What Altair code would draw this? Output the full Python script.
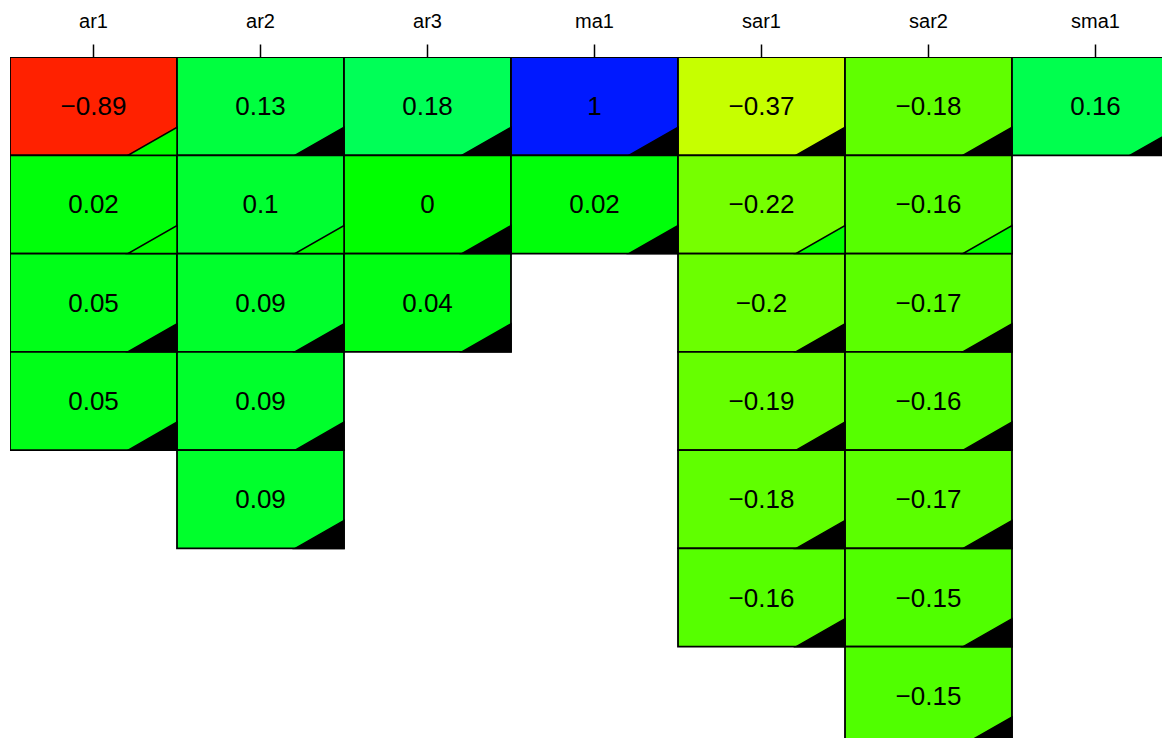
import altair as alt
import pandas as pd

cols = ["ar1", "ar2", "ar3", "ma1", "sar1", "sar2", "sma1"]

ar1_vals = [-0.89, 0.02, 0.05, 0.05]
ar2_vals = [0.13, 0.1, 0.09, 0.09, 0.09]
ar3_vals = [0.18, 0, 0.04]
ma1_vals = [1, 0.02]
sar1_vals = [-0.37, -0.22, -0.2, -0.19, -0.18, -0.16]
sar2_vals = [-0.18, -0.16, -0.17, -0.16, -0.17, -0.15, -0.15]
sma1_vals = [0.16]

# 1 = filled (black) corner marker, 0 = open (green) corner marker
ar1_flag = [0, 0, 1, 1]
ar2_flag = [1, 0, 1, 1, 1]
ar3_flag = [1, 1, 1]
ma1_flag = [1, 1]
sar1_flag = [1, 0, 1, 1, 1, 1]
sar2_flag = [1, 0, 1, 1, 1, 1, 1]
sma1_flag = [1]

all_vals = [ar1_vals, ar2_vals, ar3_vals, ma1_vals, sar1_vals, sar2_vals, sma1_vals]
all_flags = [ar1_flag, ar2_flag, ar3_flag, ma1_flag, sar1_flag, sar2_flag, sma1_flag]

rows_dom = [1, 2, 3, 4, 5, 6, 7]

recs = []
for c, vals, flags in zip(cols, all_vals, all_flags):
    for i, (v, f) in enumerate(zip(vals, flags)):
        recs.append({
            "col": c,
            "row": i + 1,
            "value": v,
            "label": f"{v:g}".replace("-", "\u2212"),
            "flag": f,
        })
df = pd.DataFrame(recs)

xscale = alt.Scale(domain=cols, paddingInner=0, paddingOuter=0, range=[0, 1169])
yscale = alt.Scale(domain=rows_dom, paddingInner=0, paddingOuter=0, range=[0, 688])

xenc = alt.X("col:N", scale=xscale,
             axis=alt.Axis(orient="top", title=None, domain=False, ticks=True,
                           tickSize=13, tickWidth=1.5, tickColor="black",
                           labelFontSize=20, labelFont="Liberation Sans",
                           labelColor="black", labelPadding=17,
                           labelBaseline="alphabetic", labelAngle=0))

base = alt.Chart(df)

cells = base.mark_rect(stroke="black", strokeWidth=1.8, clip=True).encode(
    x=xenc,
    y=alt.Y("row:O", scale=yscale, axis=None),
    fill=alt.Fill("value:Q", legend=None,
                  scale=alt.Scale(domain=[-1, 0, 1],
                                  range=["#ff001a", "#00ff00", "#0019ff"],
                                  interpolate="hsl")),
)

texts = base.mark_text(fontSize=26, font="Liberation Sans", color="black",
                       baseline="middle", align="center", dy=1, clip=True).encode(
    x=alt.X("col:N"),
    y=alt.Y("row:O"),
    text="label:N",
)

corners = base.mark_point(shape="M0,0 L-1.75,0 L0,-1 Z", size=3136, filled=True,
                          stroke="black", strokeWidth=1.5, opacity=1,
                          clip=True).encode(
    x=alt.X("col:N", bandPosition=1),
    y=alt.Y("row:O", bandPosition=1),
    fill=alt.Fill("flag:N", legend=None,
                  scale=alt.Scale(domain=[0, 1], range=["#00ff00", "#000000"])),
)

chart = alt.layer(cells, texts, corners).properties(
    width=1152, height=681,
    padding={"left": 2, "top": 49, "right": 0, "bottom": 0},
    autosize=alt.AutoSizeParams(type="none"),
).configure_view(strokeWidth=0)

chart.save("out.html", embed_options={"renderer": "svg", "actions": False})
